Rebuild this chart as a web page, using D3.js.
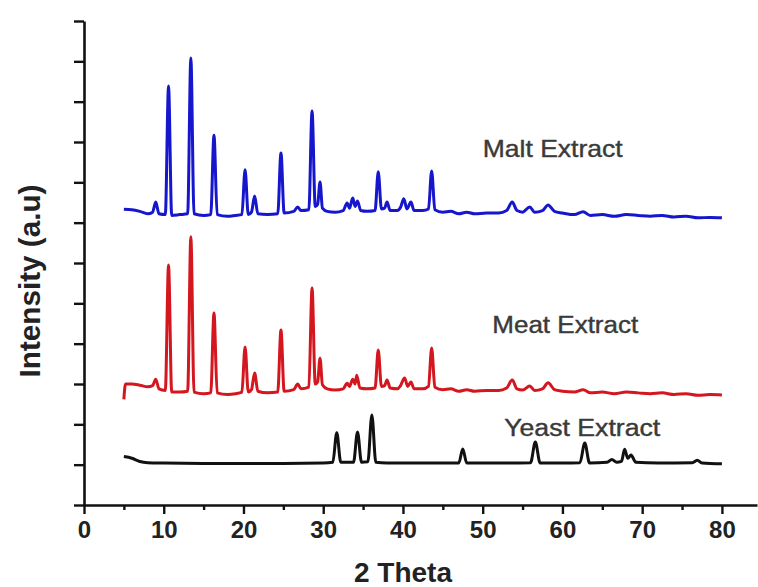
<!DOCTYPE html>
<html>
<head>
<meta charset="utf-8">
<script src="https://cdn.jsdelivr.net/npm/d3@7"></script>
<style>
  body { margin: 0; background: #fff; }
  svg { display: block; }
</style>
</head>
<body>
<div id="chart"></div>
<script>
// XRD-Daten: [2 Theta, Intensität (a.u)]
const maltPoints = [[5.0,7.33],[6.0,7.32],[7.0,7.28],[8.0,7.22],[8.6,7.26],[9.0,7.51],[9.4,7.22],[10.2,7.20],[10.6,10.39],[11.0,7.18],[12.0,7.20],[13.0,7.22],[13.4,11.08],[13.8,7.22],[15.0,7.18],[15.9,7.20],[16.3,9.17],[16.7,7.20],[18.0,7.16],[19.0,7.18],[19.8,7.20],[20.2,8.31],[20.6,7.20],[21.0,7.26],[21.4,7.66],[21.8,7.22],[23.0,7.20],[24.3,7.22],[24.7,8.73],[25.1,7.24],[26.3,7.28],[26.8,7.39],[27.2,7.30],[28.2,7.32],[28.6,9.77],[29.0,7.40],[29.3,7.45],[29.6,8.01],[29.9,7.36],[30.5,7.28],[31.5,7.26],[32.5,7.30],[33.0,7.49],[33.3,7.36],[33.7,7.61],[34.0,7.40],[34.3,7.54],[34.7,7.30],[35.5,7.28],[36.5,7.30],[36.9,8.26],[37.3,7.34],[37.7,7.36],[38.0,7.51],[38.4,7.30],[39.3,7.30],[39.7,7.38],[40.1,7.59],[40.5,7.34],[41.0,7.51],[41.4,7.30],[42.5,7.30],[43.2,7.34],[43.6,8.28],[44.0,7.32],[45.0,7.26],[46.0,7.28],[47.0,7.22],[48.0,7.26],[49.0,7.22],[50.5,7.24],[52.0,7.24],[53.0,7.30],[53.7,7.51],[54.3,7.30],[55.0,7.26],[55.9,7.39],[56.5,7.26],[57.5,7.30],[58.2,7.44],[59.0,7.28],[60.0,7.24],[61.5,7.20],[62.6,7.27],[63.5,7.18],[65.0,7.20],[66.5,7.16],[68.0,7.20],[69.5,7.18],[71.0,7.16],[72.5,7.18],[74.0,7.14],[75.5,7.16],[77.0,7.12],[78.5,7.13],[80.0,7.12]];

const meatPoints = [[5.0,2.62],[5.2,3.00],[6.0,3.00],[7.0,2.97],[8.0,2.93],[8.6,2.96],[9.0,3.12],[9.4,2.88],[10.2,2.84],[10.6,5.95],[11.0,2.80],[12.0,2.80],[13.0,2.82],[13.4,6.65],[13.8,2.80],[15.0,2.76],[15.9,2.78],[16.3,4.76],[16.7,2.78],[18.0,2.74],[19.0,2.76],[19.8,2.80],[20.2,3.92],[20.6,2.80],[21.0,2.86],[21.4,3.27],[21.8,2.82],[23.0,2.78],[24.3,2.80],[24.7,4.34],[25.1,2.82],[26.3,2.86],[26.8,3.00],[27.2,2.88],[28.2,2.92],[28.6,5.38],[29.0,3.00],[29.3,3.05],[29.6,3.64],[29.9,2.98],[30.5,2.88],[31.5,2.85],[32.5,2.88],[33.0,3.02],[33.3,2.94],[33.7,3.12],[34.0,3.00],[34.2,3.22],[34.6,2.90],[35.5,2.88],[36.5,2.90],[36.9,3.84],[37.3,2.94],[37.7,2.96],[38.0,3.10],[38.4,2.90],[39.3,2.88],[39.7,2.96],[40.2,3.15],[40.6,2.94],[41.0,3.05],[41.4,2.88],[42.5,2.88],[43.2,2.94],[43.6,3.89],[44.0,2.92],[45.0,2.86],[46.0,2.88],[47.0,2.82],[48.0,2.86],[49.0,2.82],[50.5,2.84],[52.0,2.84],[53.0,2.90],[53.7,3.10],[54.3,2.88],[55.0,2.85],[55.9,2.95],[56.5,2.84],[57.5,2.88],[58.2,3.03],[59.0,2.86],[60.0,2.82],[61.5,2.80],[62.6,2.86],[63.5,2.78],[65.0,2.80],[66.5,2.76],[68.0,2.80],[69.5,2.78],[71.0,2.76],[72.5,2.78],[74.0,2.74],[75.5,2.76],[77.0,2.72],[78.5,2.74],[80.0,2.73]];

const yeastPoints = [[5.0,1.20],[6.0,1.16],[7.0,1.08],[8.0,1.05],[10.0,1.04],[15.0,1.03],[20.0,1.03],[25.0,1.03],[30.0,1.04],[31.2,1.06],[31.7,1.79],[32.2,1.06],[33.8,1.06],[34.3,1.81],[34.8,1.06],[35.6,1.07],[36.1,2.23],[36.6,1.06],[38.0,1.04],[42.0,1.04],[47.0,1.04],[47.5,1.39],[48.0,1.04],[52.0,1.04],[56.0,1.05],[56.6,1.56],[57.2,1.04],[60.0,1.04],[62.2,1.05],[62.8,1.54],[63.4,1.04],[65.6,1.06],[66.2,1.13],[66.8,1.06],[67.4,1.08],[67.8,1.38],[68.2,1.16],[68.6,1.24],[69.2,1.06],[72.0,1.04],[76.3,1.05],[76.9,1.11],[77.5,1.04],[80.0,1.02]];

const seriesNames = ["Malt Extract", "Meat Extract", "Yeast Extract"];
const xTicks = [0, 10, 20, 30, 40, 50, 60, 70, 80];
const xMinorTicks = [5, 15, 25, 35, 45, 55, 65, 75];
const yTicks = [0, 1, 2, 3, 4, 5, 6, 7, 8, 9, 10, 11, 12];

const width = 758;
const height = 587;
const font = "'Liberation Sans', Arial, sans-serif";

const svg = d3.select("#chart")
    .append("svg")
    .attr("width", width)
    .attr("height", height);

// Skalen
const x = d3.scaleLinear().domain([0, 84.4]).range([84, 757]);
const y = d3.scaleLinear().domain([0, 12]).range([505, 21]);

// Kurven (leicht gerundete Peaks)
const line = d3.line()
    .x(d => x(d[0]))
    .y(d => y(d[1]))
    .curve(d3.curveMonotoneX);

const series = [
    { name: seriesNames[0], points: maltPoints, color: "#1616cc", label: [50.0, 8.63], len: 140, size: 24 },
    { name: seriesNames[1], points: meatPoints, color: "#d4161e", label: [51.2, 4.26], len: 146, size: 23 },
    { name: seriesNames[2], points: yeastPoints, color: "#111111", label: [52.7, 1.71], len: 156, size: 23 }
];

series.forEach(s => {
    svg.append("path")
        .datum(s.points)
        .attr("d", line)
        .attr("fill", "none")
        .attr("stroke", s.color)
        .attr("stroke-width", 3)
        .attr("stroke-linejoin", "round");

    svg.append("text")
        .attr("x", x(s.label[0]))
        .attr("y", y(s.label[1]))
        .attr("textLength", s.len)
        .attr("lengthAdjust", "spacingAndGlyphs")
        .style("font-family", font)
        .style("font-size", s.size + "px")
        .style("fill", "#3a3a3a")
        .style("stroke", "#3a3a3a")
        .style("stroke-width", 0.4)
        .text(s.name);
});

// x-Achse
const xAxis = svg.append("g")
    .attr("transform", `translate(0, ${y(0)})`)
    .call(d3.axisBottom(x).tickValues(xTicks).tickSize(9).tickPadding(7).tickSizeOuter(0));

svg.append("g")
    .attr("transform", `translate(0, ${y(0)})`)
    .call(d3.axisBottom(x).tickValues(xMinorTicks).tickSize(5).tickFormat("").tickSizeOuter(0))
    .select(".domain").remove();

// y-Achse (ohne Beschriftung)
const yAxis = svg.append("g")
    .attr("transform", `translate(${x(0)}, 0)`)
    .call(d3.axisLeft(y).tickValues(yTicks).tickSize(10).tickFormat("").tickSizeOuter(0));

[xAxis, yAxis].forEach(g => {
    g.select(".domain").attr("stroke", "#111").attr("stroke-width", 2.6);
});
svg.selectAll(".tick line").attr("stroke", "#111").attr("stroke-width", 2.4);

xAxis.selectAll("text")
    .style("font-family", font)
    .style("font-size", "24px")
    .style("font-weight", "bold")
    .style("fill", "#222");

// Achsentitel
svg.append("text")
    .attr("x", 403)
    .attr("y", 582)
    .attr("text-anchor", "middle")
    .style("font-family", font)
    .style("font-size", "28px")
    .style("font-weight", "bold")
    .style("fill", "#222")
    .text("2 Theta");

svg.append("text")
    .attr("transform", "translate(40, 281) rotate(-90)")
    .attr("text-anchor", "middle")
    .attr("textLength", 193)
    .attr("lengthAdjust", "spacingAndGlyphs")
    .style("font-family", font)
    .style("font-size", "30px")
    .style("font-weight", "bold")
    .style("fill", "#222")
    .text("Intensity (a.u)");
</script>
</body>
</html>
